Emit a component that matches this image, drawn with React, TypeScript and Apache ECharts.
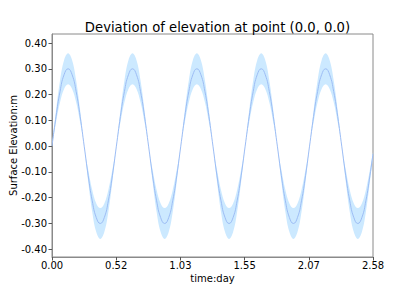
import React, { useEffect, useRef } from "react";
import * as echarts from "echarts";

const times = [
  0, 0.0323, 0.0647, 0.097, 0.1294, 0.1617, 0.1941, 0.2264, 0.2588, 0.2911, 0.3234, 0.3558, 0.3881, 0.4205, 0.4528, 0.4852,
  0.5175, 0.5498, 0.5822, 0.6145, 0.6469, 0.6792, 0.7116, 0.7439, 0.7763, 0.8086, 0.8409, 0.8733, 0.9056, 0.938, 0.9703, 1.0027,
  1.035, 1.0673, 1.0997, 1.132, 1.1644, 1.1967, 1.2291, 1.2614, 1.2938, 1.3261, 1.3584, 1.3908, 1.4231, 1.4555, 1.4878, 1.5202,
  1.5525, 1.5848, 1.6172, 1.6495, 1.6819, 1.7142, 1.7466, 1.7789, 1.8113, 1.8436, 1.8759, 1.9083, 1.9406, 1.973, 2.0053, 2.0377,
  2.07, 2.1023, 2.1347, 2.167, 2.1994, 2.2317, 2.2641, 2.2964, 2.3288, 2.3611, 2.3934, 2.4258, 2.4581, 2.4905, 2.5228, 2.5552,
  2.58,
];

const elevation = [
  0, 0.115, 0.212, 0.277, 0.3, 0.277, 0.212, 0.115, 0, -0.115, -0.212, -0.277, -0.3, -0.277, -0.212, -0.115,
  0, 0.115, 0.212, 0.277, 0.3, 0.277, 0.212, 0.115, 0, -0.115, -0.212, -0.277, -0.3, -0.277, -0.212, -0.115,
  0, 0.115, 0.212, 0.277, 0.3, 0.277, 0.212, 0.115, 0, -0.115, -0.212, -0.277, -0.3, -0.277, -0.212, -0.115,
  0, 0.115, 0.212, 0.277, 0.3, 0.277, 0.212, 0.115, 0, -0.115, -0.212, -0.277, -0.3, -0.277, -0.212, -0.115,
  0, 0.115, 0.212, 0.277, 0.3, 0.277, 0.212, 0.115, 0, -0.115, -0.212, -0.277, -0.3, -0.277, -0.212, -0.115,
  -0.03,
];

// upper edge of the shaded band
const bandHigh = [
  0, 0.138, 0.255, 0.333, 0.36, 0.333, 0.255, 0.138, 0, -0.092, -0.17, -0.222, -0.24, -0.222, -0.17, -0.092,
  0, 0.138, 0.255, 0.333, 0.36, 0.333, 0.255, 0.138, 0, -0.092, -0.17, -0.222, -0.24, -0.222, -0.17, -0.092,
  0, 0.138, 0.255, 0.333, 0.36, 0.333, 0.255, 0.138, 0, -0.092, -0.17, -0.222, -0.24, -0.222, -0.17, -0.092,
  0, 0.138, 0.255, 0.333, 0.36, 0.333, 0.255, 0.138, 0, -0.092, -0.17, -0.222, -0.24, -0.222, -0.17, -0.092,
  0, 0.138, 0.255, 0.333, 0.36, 0.333, 0.255, 0.138, 0, -0.092, -0.17, -0.222, -0.24, -0.222, -0.17, -0.092,
  -0.024,
];

// lower edge of the shaded band
const bandLow = [
  0, 0.092, 0.17, 0.222, 0.24, 0.222, 0.17, 0.092, 0, -0.138, -0.255, -0.333, -0.36, -0.333, -0.255, -0.138,
  0, 0.092, 0.17, 0.222, 0.24, 0.222, 0.17, 0.092, 0, -0.138, -0.255, -0.333, -0.36, -0.333, -0.255, -0.138,
  0, 0.092, 0.17, 0.222, 0.24, 0.222, 0.17, 0.092, 0, -0.138, -0.255, -0.333, -0.36, -0.333, -0.255, -0.138,
  0, 0.092, 0.17, 0.222, 0.24, 0.222, 0.17, 0.092, 0, -0.138, -0.255, -0.333, -0.36, -0.333, -0.255, -0.138,
  0, 0.092, 0.17, 0.222, 0.24, 0.222, 0.17, 0.092, 0, -0.138, -0.255, -0.333, -0.36, -0.333, -0.255, -0.138,
  -0.036,
];

const xTickValues = [0, 0.516, 1.032, 1.548, 2.064, 2.58];
const xTickLabels = ["0.00", "0.52", "1.03", "1.55", "2.07", "2.58"];
const yTickValues = [-0.4, -0.3, -0.2, -0.1, 0, 0.1, 0.2, 0.3, 0.4];

const FONT = "DejaVu Sans";
const SPINE = "#8a8a8a";

export default function App() {
  const ref = useRef<HTMLDivElement>(null);
  useEffect(() => {
    if (!ref.current) return;
    const chart = echarts.init(ref.current, null, { renderer: "svg" });
    const bandData = times.map((t, i) => [t, bandLow[i], bandHigh[i]]);
    const meanData = times.map((t, i) => [t, elevation[i]]);
    chart.setOption({
      animation: false,
      backgroundColor: "#ffffff",
      title: {
        text: "Deviation of elevation at point (0.0, 0.0)",
        left: 212.5,
        textAlign: "center",
        top: 16,
        textStyle: { fontFamily: FONT, fontSize: 13.2, fontWeight: "normal", color: "#000" },
      },
      grid: {
        left: 52,
        right: 42,
        top: 34,
        bottom: 32,
        containLabel: false,
        outerBoundsMode: "none",
        show: true,
        borderColor: SPINE,
        borderWidth: 1,
        backgroundColor: "transparent",
      },
      xAxis: {
        type: "value",
        min: 0,
        max: 2.58,
        name: "time:day",
        nameLocation: "middle",
        nameGap: 16,
        nameMoveOverlap: false,
        nameTextStyle: { fontFamily: FONT, fontSize: 10, color: "#000" },
        axisLine: { show: true, onZero: false, lineStyle: { color: SPINE } },
        axisTick: { show: true, length: 3.5, customValues: xTickValues, lineStyle: { color: "#555" } },
        axisLabel: {
          customValues: xTickValues,
          fontFamily: FONT,
          fontSize: 10,
          color: "#000",
          margin: 3,
          formatter: (v: number) => {
            let best = 0;
            xTickValues.forEach((tv, i) => {
              if (Math.abs(tv - v) < Math.abs(xTickValues[best] - v)) best = i;
            });
            return xTickLabels[best];
          },
        },
        splitLine: { show: false },
      },
      yAxis: {
        type: "value",
        min: -0.43,
        max: 0.435,
        name: "Surface Elevation:m",
        nameLocation: "middle",
        nameGap: 34,
        nameMoveOverlap: false,
        nameTextStyle: { fontFamily: FONT, fontSize: 10, color: "#000" },
        axisLine: { show: true, onZero: false, lineStyle: { color: SPINE } },
        axisTick: { show: true, length: 3.5, customValues: yTickValues, lineStyle: { color: "#555" } },
        axisLabel: {
          customValues: yTickValues,
          fontFamily: FONT,
          fontSize: 10,
          color: "#000",
          margin: 5,
          formatter: (v: number) => v.toFixed(2),
        },
        splitLine: { show: false },
      },
      series: [
        {
          type: "custom",
          data: bandData,
          encode: { x: 0, y: [1, 2] },
          silent: true,
          z: 1,
          renderItem: (params: any, api: any) => {
            if (params.dataIndex !== 0) return null;
            const upper = bandData.map((d) => api.coord([d[0], d[2]]));
            const lower = bandData.map((d) => api.coord([d[0], d[1]])).reverse();
            return {
              type: "polygon",
              shape: { points: upper.concat(lower), smooth: 0.4 },
              style: { fill: "#cce9ff", stroke: "none" },
            };
          },
        },
        {
          type: "line",
          data: meanData,
          smooth: true,
          symbol: "none",
          lineStyle: { color: "#9dbdf5", width: 1 },
          z: 3,
        },
      ],
    });
    return () => chart.dispose();
  }, []);
  return <div ref={ref} style={{ width: 415, height: 289, position: "absolute", left: 0, top: 0 }} />;
}
